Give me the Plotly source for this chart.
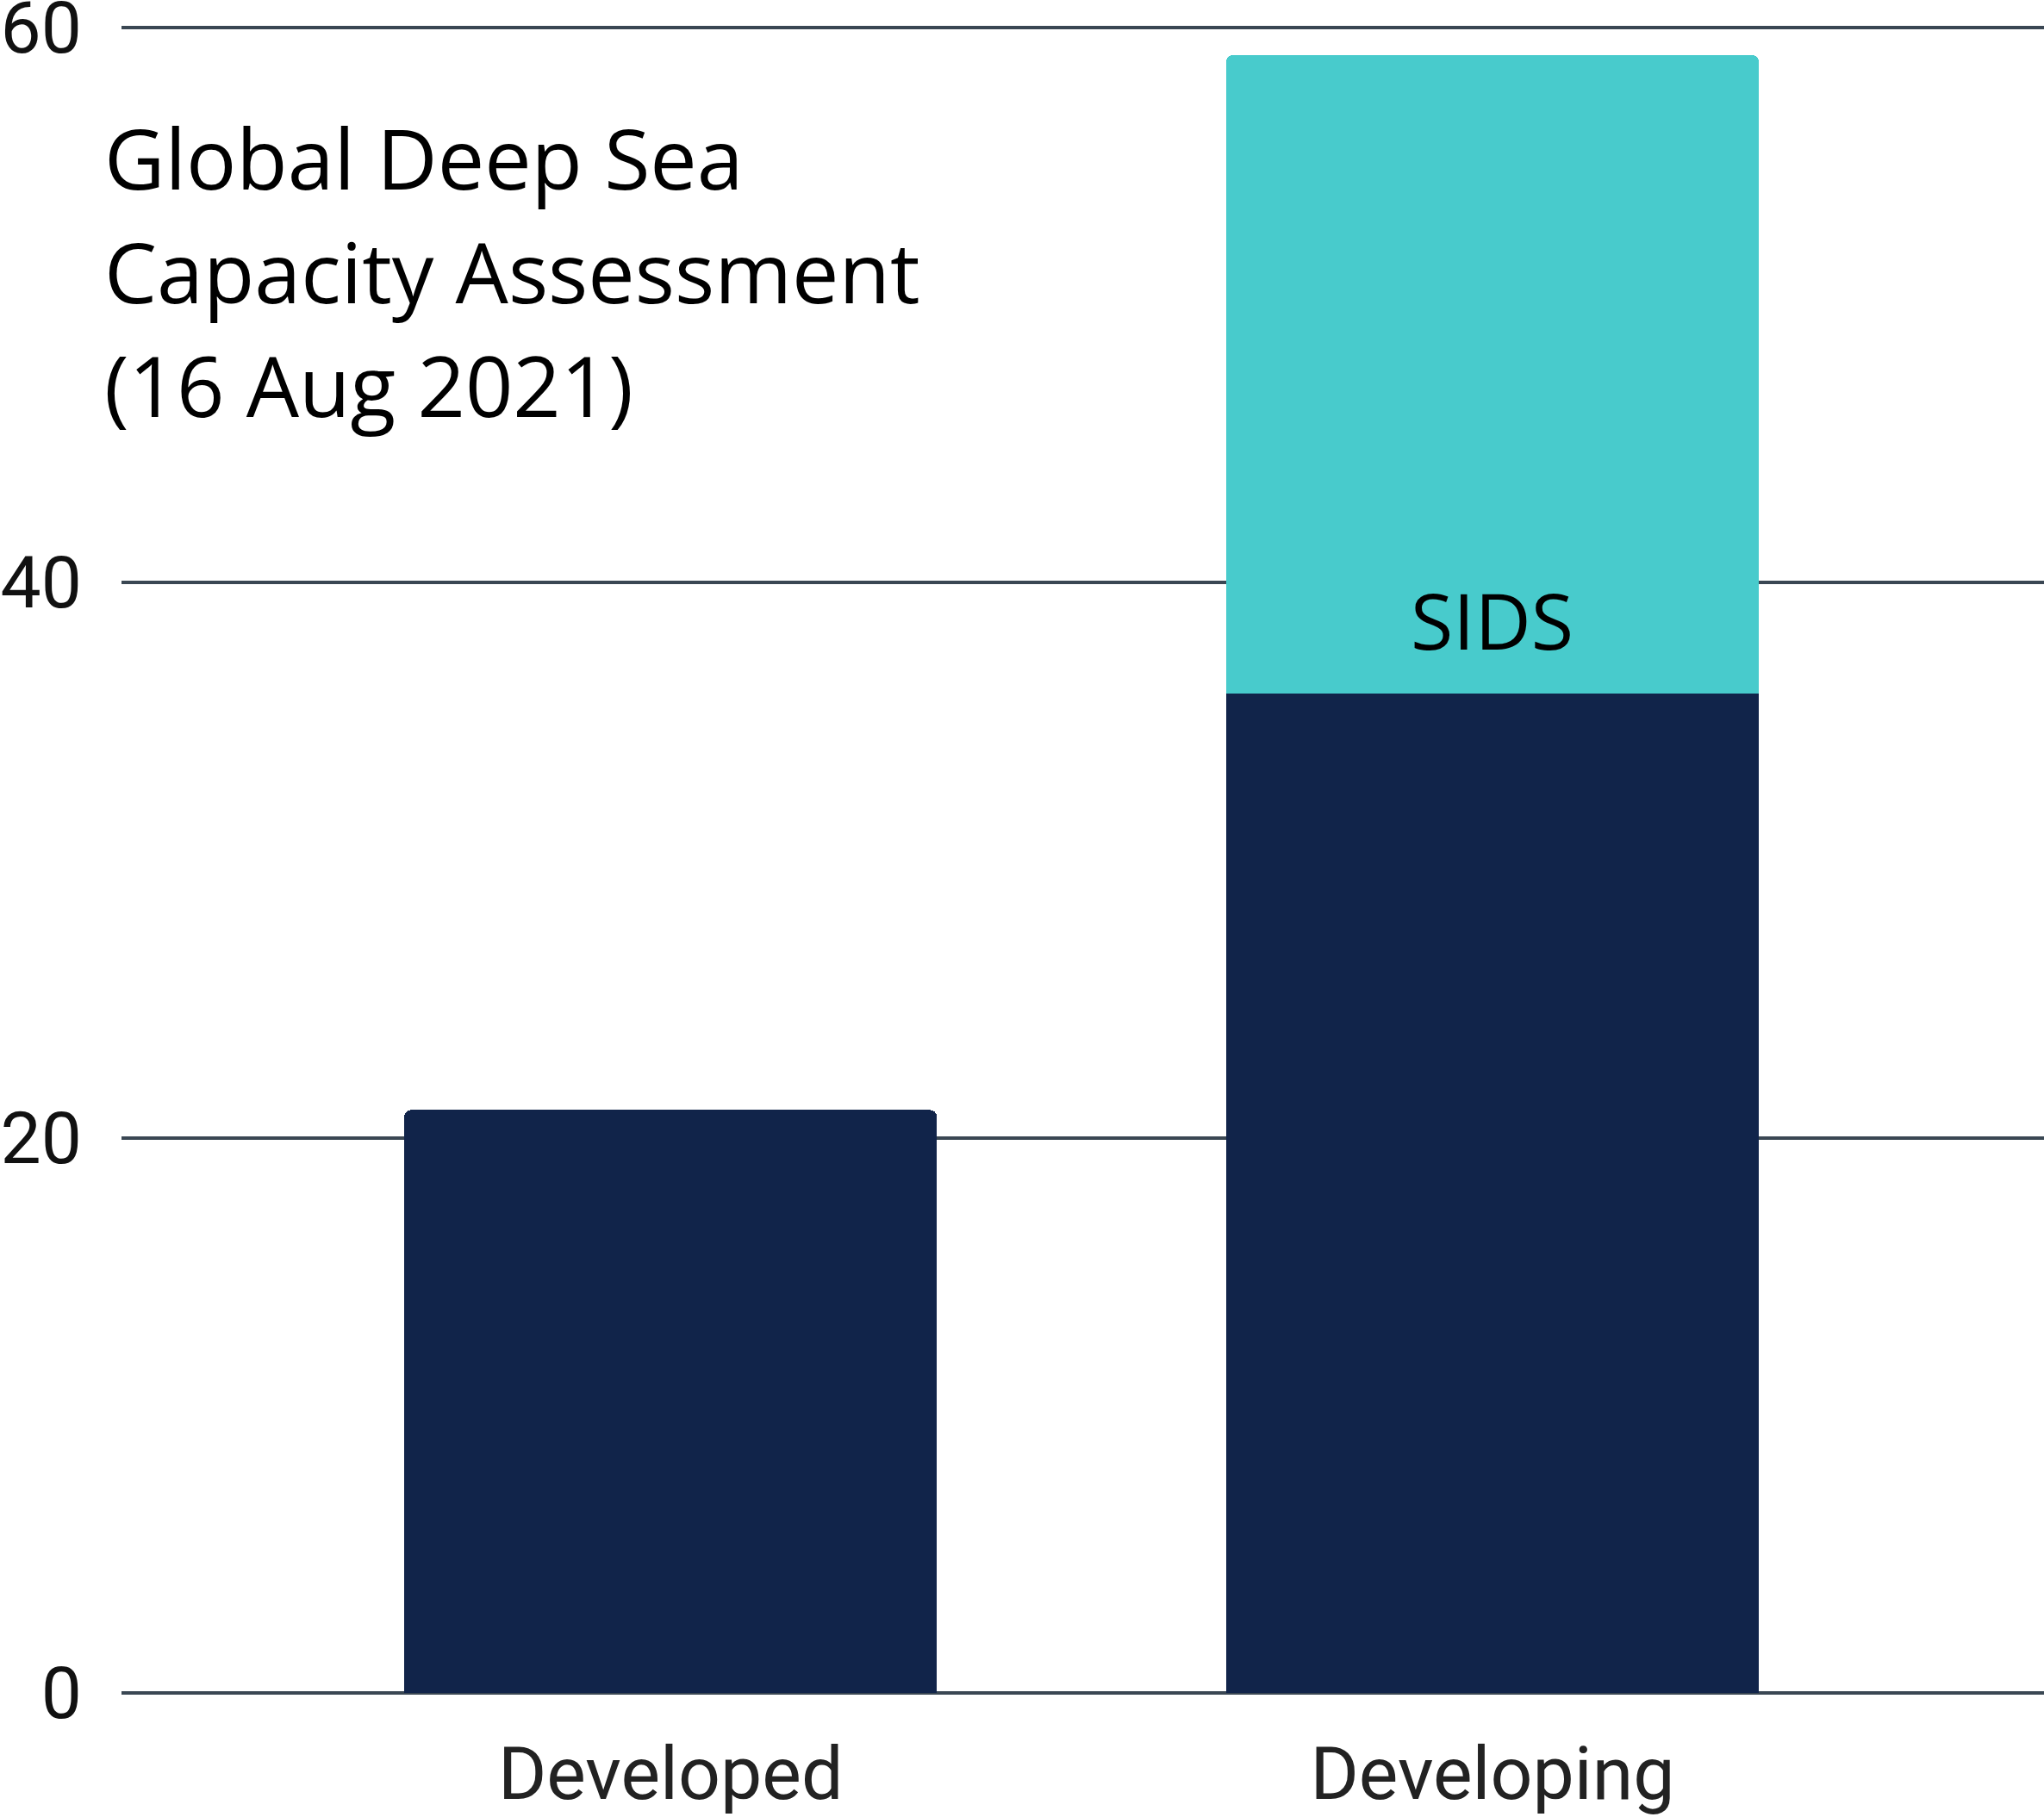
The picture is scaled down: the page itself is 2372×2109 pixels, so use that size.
import plotly.graph_objects as go

categories = ["Developed", "Developing"]
base_values = [21, 36]
sids_values = [None, 23]
y_ticks = [0, 20, 40, 60]
title_lines = ["Global Deep Sea", "Capacity Assessment", "(16 Aug 2021)"]
sids_label = "SIDS"

NAVY = "#11244A"
TEAL = "#48CBCC"
GRID = "#3A4753"

fig = go.Figure()
fig.add_trace(go.Bar(x=categories, y=base_values, marker=dict(color=NAVY, line=dict(width=0)),
                     width=0.648, showlegend=False, hoverinfo="skip"))
fig.add_trace(go.Bar(x=categories, y=sids_values, marker=dict(color=TEAL, line=dict(width=0), cornerradius=8),
                     width=0.648, showlegend=False, hoverinfo="skip"))

fig.add_annotation(x=categories[1], y=base_values[1], text=sids_label, showarrow=False,
                   yanchor="bottom", yshift=23, font=dict(family="Open Sans", size=90, color="#000000"))

title_tops = [0.9565, 0.8883, 0.8201]
for line, top in zip(title_lines, title_tops):
    fig.add_annotation(xref="paper", yref="paper", x=-0.0098, y=top, xanchor="left", yanchor="top",
                       text=line, showarrow=False, align="left",
                       font=dict(family="Open Sans", size=97, color="#000000"))

fig.update_layout(
    barmode="stack",
    width=2372, height=2109,
    margin=dict(l=141, r=0, t=30, b=144),
    plot_bgcolor="white", paper_bgcolor="white",
    font=dict(family="Roboto", size=82, color="#222222"),
)
fig.update_xaxes(range=[-0.668, 1.671], showgrid=False, showline=False, zeroline=False, automargin=False,
                 ticks="", ticklabelstandoff=36, tickfont=dict(family="Roboto", size=86, color="#222222"))
fig.update_yaxes(range=[0, 60.05], tickvals=y_ticks, showgrid=True, gridcolor=GRID, gridwidth=3.5,
                 zeroline=True, zerolinecolor=GRID, zerolinewidth=3.5, showline=False, automargin=False,
                 ticklabeloverflow="allow",
                 ticks="", ticklabelstandoff=45, tickfont=dict(family="Roboto", size=84, color="#111111"))

fig.write_html("out.html", config={"displayModeBar": False},
               post_script="document.body.style.margin='0';")
